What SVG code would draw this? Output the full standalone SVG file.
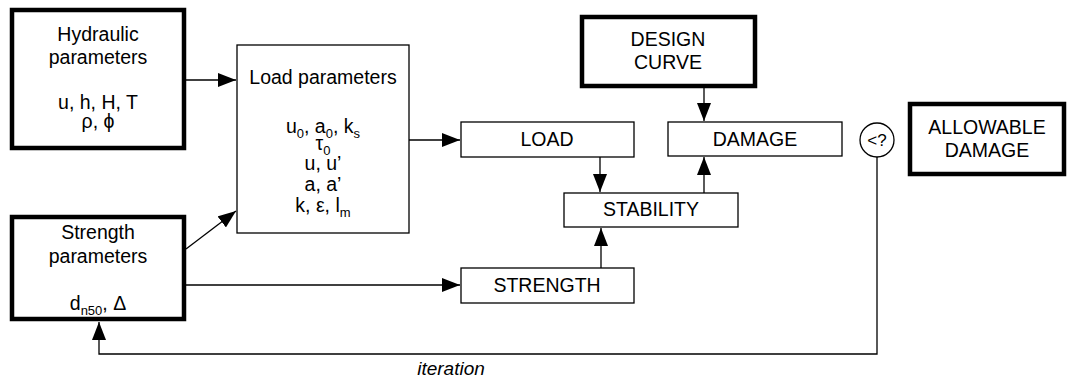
<svg xmlns="http://www.w3.org/2000/svg" width="1074" height="378" viewBox="0 0 1074 378">
<defs>
<style>
text{font-family:"Liberation Sans",Arial,sans-serif;font-size:19.5px;fill:#000;text-anchor:middle}
.thick{fill:#fff;stroke:#000;stroke-width:4.5}
.thin{fill:#fff;stroke:#000;stroke-width:1.3}
.con{fill:none;stroke:#000;stroke-width:1.3}
.sub{font-size:13px}
.it{font-style:italic;font-size:19px}
.cmp{font-size:17px}
</style>
<marker id="ah" markerUnits="userSpaceOnUse" markerWidth="19" markerHeight="14" refX="18" refY="7" orient="auto">
<path d="M0,0 L18,7 L0,14 Z" fill="#000"/>
</marker>
</defs>
<g id="connectors">
<path class="con" d="M184,80 H236" marker-end="url(#ah)"/>
<path class="con" d="M186,249 L236,211" marker-end="url(#ah)"/>
<path class="con" d="M184,285 H460" marker-end="url(#ah)"/>
<path class="con" d="M409,140 H460" marker-end="url(#ah)"/>
<path class="con" d="M600,157 V192" marker-end="url(#ah)"/>
<path class="con" d="M601,268 V228" marker-end="url(#ah)"/>
<path class="con" d="M704,86 V121" marker-end="url(#ah)"/>
<path class="con" d="M704,193 V157" marker-end="url(#ah)"/>
<path class="con" d="M877,157 V354 H99 V322" marker-end="url(#ah)"/>
<text class="it" x="451" y="375">iteration</text>
</g>
<g id="hydraulic">
<rect class="thick" x="12" y="10" width="172" height="138"/>
<text x="98" y="41">Hydraulic</text>
<text x="98" y="64">parameters</text>
<text x="98" y="109">u, h, H, T</text>
<text x="98" y="128">ρ, ϕ</text>
</g>
<g id="strength-params">
<rect class="thick" x="12" y="217" width="172" height="102"/>
<text x="98" y="239">Strength</text>
<text x="98" y="263">parameters</text>
<text x="98" y="310">d<tspan class="sub" dy="5">n50</tspan><tspan dy="-5">, Δ</tspan></text>
</g>
<g id="load-params">
<rect class="thin" x="237" y="45" width="172" height="188"/>
<text x="323" y="84">Load parameters</text>
<text x="323" y="133">u<tspan class="sub" dy="5">0</tspan><tspan dy="-5">, a</tspan><tspan class="sub" dy="5">0</tspan><tspan dy="-5">, k</tspan><tspan class="sub" dy="5">s</tspan></text>
<text x="323" y="150">τ<tspan class="sub" dy="5">0</tspan></text>
<text x="323" y="170">u, u’</text>
<text x="323" y="191">a, a’</text>
<text x="323" y="212">k, ε, l<tspan class="sub" dy="5">m</tspan></text>
</g>
<g id="load">
<rect class="thin" x="461" y="122" width="173" height="35"/>
<text x="547" y="146">LOAD</text>
</g>
<g id="strength">
<rect class="thin" x="461" y="268" width="173" height="35"/>
<text x="547" y="292">STRENGTH</text>
</g>
<g id="stability">
<rect class="thin" x="564" y="193" width="174" height="34"/>
<text x="651" y="216">STABILITY</text>
</g>
<g id="damage">
<rect class="thin" x="668" y="122" width="174" height="34"/>
<text x="755" y="146">DAMAGE</text>
</g>
<g id="design-curve">
<rect class="thick" x="582" y="17" width="173" height="69"/>
<text x="668" y="46">DESIGN</text>
<text x="668" y="69">CURVE</text>
</g>
<g id="compare">
<circle class="thin" cx="877" cy="140" r="17"/>
<text class="cmp" x="877" y="146">&lt;?</text>
</g>
<g id="allowable-damage">
<rect class="thick" x="910" y="104" width="154" height="70"/>
<text x="987" y="134">ALLOWABLE</text>
<text x="987" y="157">DAMAGE</text>
</g>
</svg>
